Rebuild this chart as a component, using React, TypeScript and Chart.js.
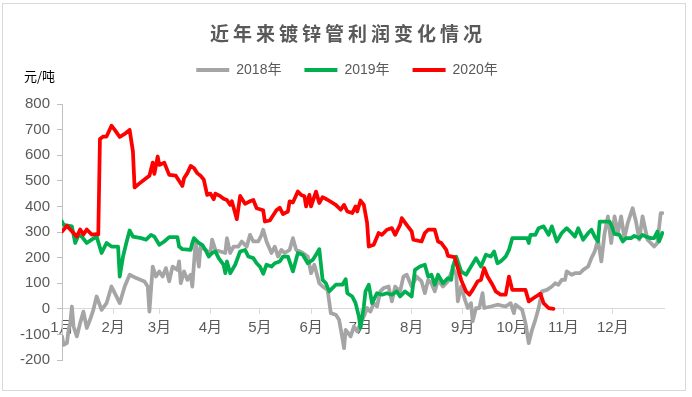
import React, { useEffect, useRef } from "react";
import { Chart, registerables } from "chart.js";

Chart.register(...registerables);

const chartTitle = "近年来镀锌管利润变化情况";
const unitLabel = "元/吨";
const seriesNames = ["2018年", "2019年", "2020年"];
const seriesColors = ["#A5A5A5", "#00B050", "#FF0000"];
const monthStartDays = [0, 31, 59, 90, 120, 151, 181, 212, 243, 273, 304, 334];
const monthLabels = ["1月", "2月", "3月", "4月", "5月", "6月", "7月", "8月", "9月", "10月", "11月", "12月"];
const yMin = -200;
const yMax = 800;
const yStep = 100;

const days2018 = [0,1,3,4,5,6,7,9,11,13,15,17,19,21,24,27,30,32,35,38,41,45,50,52,53,55,57,59,61,63,65,67,70,71,72,74,76,78,79,81,83,84,87,90,91,93,96,99,100,102,104,107,109,112,114,116,119,121,122,124,127,129,131,133,135,138,140,142,144,146,149,151,153,156,158,161,163,166,168,170,171,172,175,177,179,181,183,185,187,189,191,193,195,198,200,202,205,207,209,212,215,218,220,222,224,226,228,231,234,237,239,240,242,244,246,248,249,251,253,255,256,260,264,269,272,274,275,279,281,283,285,287,289,291,294,297,299,301,303,305,306,309,311,314,316,319,321,323,325,327,329,331,333,335,337,339,341,343,346,348,350,352,355,357,359,361,363,364];
const values2018 = [-108,-141,-134,-82,-56,9,-69,-108,-56,-11,-75,-43,-4,48,-4,22,87,61,22,87,133,120,107,87,-11,165,126,146,126,159,107,165,152,185,100,146,113,133,87,263,165,243,230,218,270,230,224,218,276,218,243,243,263,243,289,263,263,289,309,263,218,243,204,230,218,230,276,230,225,218,204,139,172,100,87,74,-17,-23,-43,-115,-154,-82,-108,-69,-88,-56,-30,3,-11,22,9,68,81,87,29,87,68,126,133,87,126,107,61,113,100,68,113,87,107,159,133,29,87,42,3,22,-49,3,3,61,3,9,16,9,22,-17,16,-4,-56,-134,-82,-43,3,68,74,87,100,94,113,113,146,133,139,139,152,165,198,224,270,185,296,361,257,361,296,361,276,335,393,341,270,361,270,257,243,257,374,374];

const days2019 = [0,1,6,8,10,12,15,18,21,24,27,30,34,35,37,39,41,43,48,51,54,56,59,62,65,70,71,73,78,79,80,83,85,87,89,91,93,95,98,99,100,102,105,108,111,113,116,118,120,122,124,127,129,132,134,137,140,143,146,149,152,154,156,158,160,162,166,170,172,173,176,178,180,181,183,184,186,188,191,194,197,200,203,205,208,212,214,217,220,222,224,226,228,231,234,236,237,239,242,245,248,251,254,257,260,262,264,266,269,271,273,282,283,284,287,289,292,295,297,300,303,306,309,311,313,316,319,321,323,325,326,332,333,335,338,340,342,345,347,350,352,354,357,359,361,362,364];
const values2019 = [341,328,322,257,289,282,257,270,282,218,257,243,243,126,204,257,306,282,276,270,289,282,250,263,280,280,243,233,230,257,276,257,250,230,204,218,224,198,172,139,185,139,172,224,230,204,198,178,165,137,172,165,178,185,204,204,146,218,211,178,191,211,233,113,100,68,94,94,116,61,48,22,-30,-75,9,68,94,22,61,55,61,55,68,48,68,48,152,165,172,126,133,94,133,100,120,113,165,204,146,133,165,198,165,211,204,224,178,185,204,230,276,276,257,289,289,315,322,289,322,263,296,315,296,282,315,270,296,309,282,263,341,341,328,293,289,263,276,276,285,276,289,282,276,276,302,263,296];

const days2020 = [0,3,5,9,11,13,15,18,21,22,23,25,27,30,32,35,38,41,43,44,47,51,53,55,56,58,59,62,65,69,73,74,76,78,80,82,84,86,88,90,92,93,96,98,100,102,103,106,108,111,114,116,118,122,123,126,130,132,134,137,138,140,143,145,147,148,150,151,154,156,158,161,166,169,171,173,176,178,179,181,183,185,186,189,192,194,197,200,202,205,206,209,212,213,218,220,222,226,228,230,233,234,238,240,242,245,247,249,252,254,256,258,261,263,266,269,271,273,281,283,286,289,290,292,295,298];
const values2020 = [302,324,310,282,310,290,310,290,292,290,663,673,673,715,699,671,683,699,615,474,490,510,520,571,527,595,562,571,523,520,480,510,530,558,550,530,520,504,445,450,428,450,440,430,425,406,420,350,441,410,420,425,393,385,341,345,385,395,370,380,420,415,458,445,440,400,445,400,458,413,436,426,406,387,406,380,374,400,380,423,406,335,243,250,296,289,309,315,289,328,354,328,302,270,263,296,309,309,263,257,230,207,202,159,113,68,55,74,107,113,159,126,94,68,55,55,126,74,74,29,42,55,59,22,3,0];

const seriesDays = [days2018, days2019, days2020];
const seriesValues = [values2018, values2019, values2020];

const FONT = "'Liberation Sans', Arial, 'Noto Sans CJK SC', sans-serif";
const TEXT_COLOR = "#595959";

export default function App() {
  const canvasRef = useRef<HTMLCanvasElement | null>(null);

  useEffect(() => {
    const canvas = canvasRef.current;
    if (!canvas) return;

    const legendSpacer = {
      id: "legendSpacer",
      beforeInit(chart: any) {
        const lg = chart.legend;
        if (!lg) return;
        const origFit = lg.fit;
        lg.fit = function () {
          origFit.call(this);
          this.height += 17;
        };
        const origDraw = lg.draw;
        lg.draw = function () {
          const ctx = this.ctx;
          ctx.save();
          ctx.translate(15, 0);
          origDraw.call(this);
          ctx.restore();
        };
      },
    };

    const datasets = seriesNames.map((name, i) => ({
      label: name,
      data: seriesDays[i].map((d, j) => ({ x: d, y: seriesValues[i][j] })),
      borderColor: seriesColors[i],
      backgroundColor: seriesColors[i],
      borderWidth: 3.75,
      pointRadius: 0,
      pointHoverRadius: 0,
      tension: 0,
      fill: false,
      borderJoinStyle: "round" as const,
      borderCapStyle: "round" as const,
      order: 3 - i,
    }));

    const chart = new Chart(canvas, {
      type: "line",
      data: { datasets },
      plugins: [legendSpacer],
      options: {
        responsive: false,
        animation: false,
        events: [],
        layout: { padding: { top: 40, left: 0, right: 28, bottom: 37 } },
        plugins: {
          title: { display: false },
          tooltip: { enabled: false },
          legend: {
            display: true,
            position: "top",
            align: "center",
            labels: {
              boxWidth: 33,
              boxHeight: 4,
              padding: 23,
              color: TEXT_COLOR,
              font: { family: FONT, size: 14 },
              sort: (a: any, b: any) => a.datasetIndex - b.datasetIndex,
              generateLabels: (c: any) =>
                Chart.defaults.plugins.legend.labels
                  .generateLabels(c)
                  .map((l: any) => ({ ...l, lineWidth: 0, fillStyle: l.strokeStyle })),
            },
          },
        },
        scales: {
          x: {
            type: "linear",
            min: 0,
            max: 365,
            position: { y: 0 } as any,
            afterBuildTicks: (s: any) => {
              s.ticks = monthStartDays.map((v) => ({ value: v }));
            },
            ticks: {
              autoSkip: false,
              maxRotation: 0,
              minRotation: 0,
              padding: 5,
              color: TEXT_COLOR,
              font: { family: FONT, size: 15 },
              callback: (v: any) => {
                const k = monthStartDays.indexOf(Number(v));
                return k >= 0 ? monthLabels[k] : "";
              },
            },
            grid: {
              drawOnChartArea: false,
              drawTicks: true,
              tickLength: 5,
              color: "#d9d9d9",
            },
            border: { color: "#d9d9d9", width: 1 },
          },
          y: {
            type: "linear",
            min: yMin,
            max: yMax,
            afterFit: (s: any) => {
              s.width = 62;
            },
            ticks: {
              stepSize: yStep,
              padding: 7,
              color: TEXT_COLOR,
              font: { family: FONT, size: 15 },
            },
            grid: {
              drawOnChartArea: false,
              drawTicks: true,
              tickLength: 5,
              color: "#bfbfbf",
            },
            border: { color: "#bfbfbf", width: 1 },
          },
        },
      },
    });

    return () => {
      chart.destroy();
    };
  }, []);

  return (
    <div style={{ position: "absolute", left: 0, top: 0, width: 692, height: 397, background: "#fff" }}>
      <div
        style={{
          position: "absolute",
          left: 2,
          top: 3,
          width: 684,
          height: 388,
          boxSizing: "border-box",
          border: "1px solid #d9d9d9",
        }}
      />
      <canvas
        ref={canvasRef}
        width={692}
        height={397}
        style={{ position: "absolute", left: 0, top: 0, width: 692, height: 397 }}
      />
      <div
        style={{
          position: "absolute",
          left: 0,
          top: 21,
          width: 692,
          textAlign: "center",
          fontFamily: "'Noto Sans CJK SC', sans-serif",
          fontWeight: 700,
          fontSize: 19,
          lineHeight: "24px",
          letterSpacing: 4,
          paddingLeft: 4,
          boxSizing: "border-box",
          color: TEXT_COLOR,
        }}
      >
        {chartTitle}
      </div>
      <div
        style={{
          position: "absolute",
          left: 24,
          top: 68,
          fontFamily: "'Noto Sans CJK SC', sans-serif",
          fontSize: 13,
          lineHeight: "16px",
          color: "#000",
        }}
      >
        {unitLabel}
      </div>
    </div>
  );
}
